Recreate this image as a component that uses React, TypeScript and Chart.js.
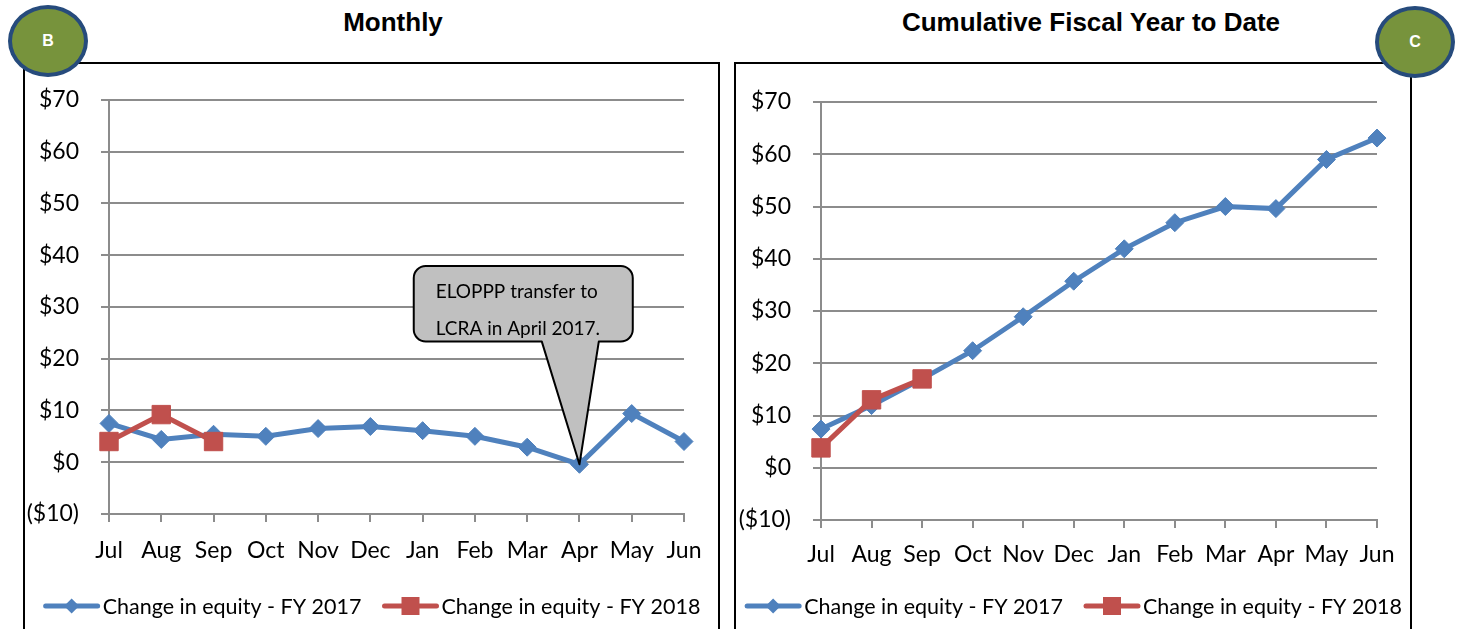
import React, { useEffect, useRef } from "react";
import { Chart, registerables } from "chart.js";

Chart.register(...registerables);

const months = ["Jul", "Aug", "Sep", "Oct", "Nov", "Dec", "Jan", "Feb", "Mar", "Apr", "May", "Jun"];
const monthlyFY2017 = [7.5, 4.4, 5.4, 5.0, 6.5, 6.9, 6.1, 5.0, 2.9, -0.4, 9.4, 4.0];
const monthlyFY2018 = [4.0, 9.2, 4.0];
const cumulativeFY2017 = [7.4, 11.9, 17.0, 22.4, 28.9, 35.7, 41.9, 46.9, 50.0, 49.6, 59.0, 63.1];
const cumulativeFY2018 = [3.8, 13.0, 17.0];
const yMin = -10;
const yMax = 70;
const yStep = 10;
const seriesNames = ["Change in equity - FY 2017", "Change in equity - FY 2018"];
const calloutLines = ["ELOPPP transfer to", "LCRA in April 2017."];

const BLUE = "#4F81BD";
const RED = "#C0504D";
const GRID = "#8C8C8C";
const TICK_FONT = "Lato";

const fmtMoney = (v: number) => (v < 0 ? `($${-v})` : `$${v}`);

const legendPlugin = {
  id: "customLegend",
  afterDraw(chart: any) {
    const ctx = chart.ctx;
    const y = chart.options.plugins.customLegend.y;
    const lineLen = 56;
    const gap = 3;
    const itemGap = 21;
    ctx.save();
    ctx.font = `21.5px ${TICK_FONT}`;
    const ds = chart.data.datasets;
    const widths = ds.map((d: any) => ctx.measureText(d.label).width);
    const total = ds.length * (lineLen + gap) + widths.reduce((a: number, b: number) => a + b, 0) + itemGap * (ds.length - 1);
    let x = (chart.width - total) / 2;
    ds.forEach((d: any, i: number) => {
      ctx.strokeStyle = d.borderColor;
      ctx.lineWidth = 5;
      ctx.lineCap = "round";
      ctx.beginPath();
      ctx.moveTo(x + 2, y);
      ctx.lineTo(x + lineLen - 2, y);
      ctx.stroke();
      ctx.fillStyle = d.borderColor;
      const cx = x + lineLen / 2;
      ctx.beginPath();
      if (d.pointStyle === "rectRot") {
        const r = 7.5;
        ctx.moveTo(cx - r, y);
        ctx.lineTo(cx, y - r);
        ctx.lineTo(cx + r, y);
        ctx.lineTo(cx, y + r);
        ctx.closePath();
      } else {
        const s = 9;
        ctx.rect(cx - s, y - s, 2 * s, 2 * s);
      }
      ctx.fill();
      ctx.fillStyle = "#000";
      ctx.textBaseline = "middle";
      ctx.textAlign = "left";
      ctx.fillText(d.label, x + lineLen + gap, y + 1);
      x += lineLen + gap + widths[i] + itemGap;
    });
    ctx.restore();
  },
};

const calloutPlugin = {
  id: "callout",
  afterDatasetsDraw(chart: any) {
    const opts = chart.options.plugins.callout;
    if (!opts || !opts.enabled) return;
    const ctx = chart.ctx;
    const xs = chart.scales.x;
    const ys = chart.scales.y;
    const tipX = xs.getPixelForValue(opts.tipIndex);
    const tipY = ys.getPixelForValue(opts.tipValue);
    const left = xs.getPixelForValue(opts.box[0]);
    const right = xs.getPixelForValue(opts.box[1]);
    const top = ys.getPixelForValue(opts.box[2]);
    const bottom = ys.getPixelForValue(opts.box[3]);
    const baseL = xs.getPixelForValue(opts.base[0]);
    const baseR = xs.getPixelForValue(opts.base[1]);
    const r = 12;
    ctx.save();
    ctx.beginPath();
    ctx.moveTo(left + r, top);
    ctx.lineTo(right - r, top);
    ctx.arcTo(right, top, right, top + r, r);
    ctx.lineTo(right, bottom - r);
    ctx.arcTo(right, bottom, right - r, bottom, r);
    ctx.lineTo(baseR, bottom);
    ctx.lineTo(tipX, tipY);
    ctx.lineTo(baseL, bottom);
    ctx.lineTo(left + r, bottom);
    ctx.arcTo(left, bottom, left, bottom - r, r);
    ctx.lineTo(left, top + r);
    ctx.arcTo(left, top, left + r, top, r);
    ctx.closePath();
    ctx.fillStyle = "#C0C0C0";
    ctx.fill();
    ctx.lineWidth = 2;
    ctx.strokeStyle = "#000";
    ctx.lineJoin = "round";
    ctx.stroke();
    ctx.fillStyle = "#000";
    ctx.font = `19px ${TICK_FONT}`;
    ctx.textBaseline = "middle";
    ctx.textAlign = "left";
    const h = bottom - top;
    const rows = [0.34, 0.83];
    opts.lines.forEach((t: string, i: number) => {
      ctx.fillText(t, left + 22, top + h * rows[i]);
    });
    ctx.restore();
  },
};

function makeConfig(d1: number[], d2: number[], layout: any, yWidth: number, xPad: number, callout: any) {
  return {
    type: "line" as const,
    data: {
      labels: months,
      datasets: [
        {
          label: seriesNames[0],
          data: d1,
          borderColor: BLUE,
          backgroundColor: BLUE,
          pointBackgroundColor: BLUE,
          pointBorderColor: BLUE,
          borderWidth: 5,
          pointStyle: "rectRot",
          pointRadius: 9,
          pointBorderWidth: 1,
          tension: 0,
          order: 1,
        },
        {
          label: seriesNames[1],
          data: d2,
          borderColor: RED,
          backgroundColor: RED,
          pointBackgroundColor: RED,
          pointBorderColor: RED,
          borderWidth: 5,
          pointStyle: "rect",
          pointRadius: 13,
          pointBorderWidth: 1,
          tension: 0,
          order: 0,
        },
      ],
    },
    options: {
      responsive: false,
      animation: false as const,
      events: [],
      layout: { padding: layout },
      plugins: {
        legend: { display: false },
        tooltip: { enabled: false },
        title: { display: false },
        customLegend: { y: 542 },
        callout,
      },
      scales: {
        x: {
          type: "category" as const,
          offset: false,
          grid: { drawOnChartArea: false, drawTicks: true, tickLength: 8, color: GRID, lineWidth: 2 },
          border: { display: true, color: GRID, width: 2 },
          ticks: { color: "#000", font: { family: TICK_FONT, size: 23 }, padding: xPad, maxRotation: 0, autoSkip: false },
          afterFit: (s: any) => {
            s.height = 60;
          },
        },
        y: {
          min: yMin,
          max: yMax,
          grid: { color: GRID, lineWidth: 2, tickLength: 8, drawTicks: true },
          border: { display: true, color: GRID, width: 2 },
          ticks: {
            stepSize: yStep,
            color: "#000",
            font: { family: TICK_FONT, size: 23 },
            padding: 22,
            callback: (v: any) => fmtMoney(Number(v)),
          },
          afterFit: (s: any) => {
            s.width = yWidth;
          },
        },
      },
    },
    plugins: [legendPlugin, calloutPlugin],
  };
}

function ChartCanvas({ config, width, height, style }: any) {
  const ref = useRef<HTMLCanvasElement | null>(null);
  useEffect(() => {
    if (!ref.current) return;
    const chart = new Chart(ref.current, config);
    return () => chart.destroy();
  }, []);
  return <canvas ref={ref} width={width} height={height} style={{ position: "absolute", ...style }} />;
}

function Badge({ letter, cx, cy }: { letter: string; cx: number; cy: number }) {
  return (
    <div
      style={{
        position: "absolute",
        left: cx - 40,
        top: cy - 36,
        width: 80,
        height: 72,
        boxSizing: "border-box",
        borderRadius: "50%",
        border: "4px solid #264B7C",
        background: "#77933C",
        color: "#fff",
        fontFamily: "'Liberation Sans', Arial, sans-serif",
        fontWeight: "bold",
        fontSize: 16,
        display: "flex",
        alignItems: "center",
        justifyContent: "center",
        zIndex: 5,
      }}
    >
      {letter}
    </div>
  );
}

export default function App() {
  useEffect(() => {
    document.body.style.margin = "0";
  }, []);
  const leftCfg = makeConfig(monthlyFY2017, monthlyFY2018, { left: 0, right: 35, top: 34, bottom: 56 }, 84, 15, {
    enabled: true,
    tipIndex: 9,
    tipValue: monthlyFY2017[9],
    box: [5.83, 10.02, 37.9, 23.3],
    base: [8.28, 9.37],
    lines: calloutLines,
  });
  const rightCfg = makeConfig(cumulativeFY2017, cumulativeFY2018, { left: 0, right: 34, top: 38, bottom: 50 }, 85, 12.5, {
    enabled: false,
  });
  const titleStyle: any = {
    position: "absolute",
    top: 22,
    transform: "translate(-50%, -50%)",
    fontFamily: "'Liberation Sans', Arial, sans-serif",
    fontWeight: "bold",
    fontSize: 26,
    lineHeight: 1,
    whiteSpace: "nowrap",
    color: "#000",
  };
  return (
    <div style={{ position: "fixed", left: 0, top: 0, width: 1463, height: 629, background: "#fff", overflow: "hidden" }}>
      <div style={{ ...titleStyle, left: 393 }}>Monthly</div>
      <div style={{ ...titleStyle, left: 1091 }}>Cumulative Fiscal Year to Date</div>
      <div style={{ position: "absolute", left: 23, top: 62, width: 697, height: 620, border: "2px solid #000", boxSizing: "border-box" }} />
      <div style={{ position: "absolute", left: 734, top: 62, width: 678, height: 620, border: "2px solid #000", boxSizing: "border-box" }} />
      <ChartCanvas config={leftCfg} width={694} height={566} style={{ left: 25, top: 64 }} />
      <ChartCanvas config={rightCfg} width={675} height={566} style={{ left: 736, top: 64 }} />
      <Badge letter="B" cx={48} cy={41} />
      <Badge letter="C" cx={1415} cy={42} />
    </div>
  );
}
